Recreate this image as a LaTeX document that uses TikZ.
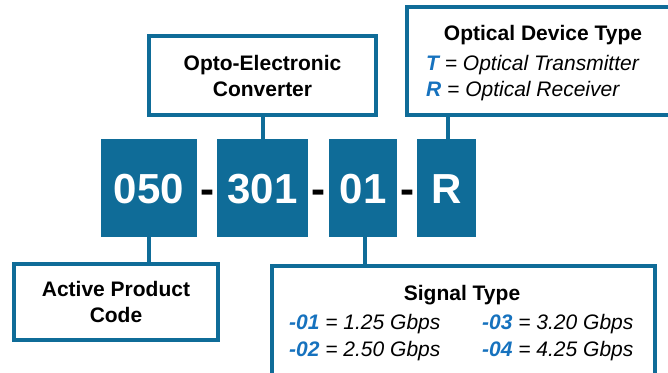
\documentclass[tikz,border=0pt]{standalone}
\usepackage{fontspec}
\setmainfont{Liberation Sans}
\definecolor{boxblue}{RGB}{15,108,152}
\definecolor{txtblue}{RGB}{22,114,190}
\tikzset{
  frame/.style={draw=boxblue, line width=4pt, rectangle, inner sep=0pt, fill=white},
  codebox/.style={fill=boxblue, rectangle, inner sep=0pt},
  codetxt/.style={text=white, font=\fontsize{42}{46}\selectfont\bfseries, anchor=base, inner sep=0pt},
  dashtxt/.style={text=black, font=\fontsize{42}{46}\selectfont\bfseries, anchor=base, inner sep=0pt},
  lbl/.style={font=\fontsize{21}{25}\selectfont\bfseries, anchor=base, inner sep=0pt},
  itl/.style={font=\fontsize{21}{25}\selectfont\itshape, anchor=base west, inner sep=0pt},
  conn/.style={draw=boxblue, line width=4pt}
}
\newcommand{\bl}[1]{{\bfseries\color{txtblue}#1}}
\begin{document}
\begin{tikzpicture}[x=1pt,y=-1pt]
\useasboundingbox (0,0) rectangle (668,372);
% code boxes
\node[codebox, minimum width=96pt, minimum height=98pt] (b050) at (149,188) {};
\node[codebox, minimum width=91pt, minimum height=98pt] (b301) at (262.5,188) {};
\node[codebox, minimum width=68pt, minimum height=98pt] (b01) at (363,188) {};
\node[codebox, minimum width=59pt, minimum height=98pt] (bR) at (446.5,188) {};
\node[codetxt] (t050) at (149,203) {050};
\node[codetxt] (t301) at (262.5,203) {301};
\node[codetxt] (t01) at (363,203) {01};
\node[codetxt] (tR) at (446.5,203) {R};
\node[dashtxt] (d1) at (207,203) {-};
\node[dashtxt] (d2) at (318.5,203) {-};
\node[dashtxt] (d3) at (407,203) {-};
% label boxes
\node[frame, minimum width=227pt, minimum height=79pt] (opto) at (262.5,75.5) {};
\node[frame, minimum width=283pt, minimum height=108pt] (optdev) at (548.5,61) {};
\node[frame, minimum width=204pt, minimum height=76pt] (apc) at (116,302) {};
\node[frame, minimum width=383pt, minimum height=130pt] (sig) at (463,331) {};
% connectors
\draw[conn] (b301.north) -- (b301.north |- opto.south);
\draw[conn] (bR.north) ++(1.5,0) coordinate (rtop) -- (rtop |- optdev.south);
\draw[conn] (b050.south) -- (b050.south |- apc.north);
\draw[conn] (b01.south) ++(2,0) coordinate (otop) -- (otop |- sig.north);
% texts
\node[lbl] (opto1) at (262.5,70.7) {Opto-Electronic};
\node[lbl] (opto2) at (262.5,96.7) {Converter};
\node[lbl] (od1) at (543,40.7) {Optical Device Type};
\node[itl] (od2) at (426,70.7) {\bl{T} = Optical Transmitter};
\node[itl] (od3) at (426,96.7) {\bl{R} = Optical Receiver};
\node[lbl] (ap1) at (116,296.7) {Active Product};
\node[lbl] (ap2) at (116,322.7) {Code};
\node[lbl] (st0) at (462,300) {Signal Type};
\node[itl] (s1) at (289,329) {\bl{-01} = 1.25 Gbps};
\node[itl] (s2) at (289,356) {\bl{-02} = 2.50 Gbps};
\node[itl] (s3) at (482,329) {\bl{-03} = 3.20 Gbps};
\node[itl] (s4) at (482,356) {\bl{-04} = 4.25 Gbps};
\end{tikzpicture}
\end{document}
